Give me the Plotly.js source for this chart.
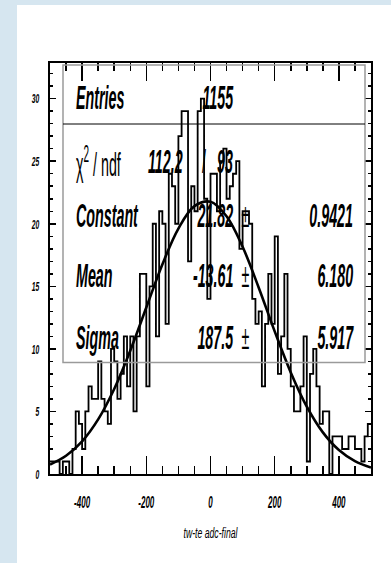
<!DOCTYPE html>
<html>
<head>
<meta charset="utf-8">
<script src="https://cdn.plot.ly/plotly-3.0.1.min.js"></script>
<style>
html, body { margin: 0; padding: 0; background: #ffffff; }
#chart { width: 391px; height: 563px; }
</style>
</head>
<body>
<div id="chart"></div>
<script>
// ---- data ----
const binLow = -500;
const binWidth = 10;
const counts = [
  1, 1, 1, 0, 1, 1, 0, 2, 5, 4,
  2, 5, 7, 6, 6, 9, 6, 5, 4, 10,
  9, 6, 8, 11, 7, 11, 5, 11, 16, 16,
  7, 15, 20, 11, 21, 20, 12, 24, 23, 20,
  27, 29, 29, 17, 23, 21, 29, 30, 22, 14,
  24, 24, 21, 25, 26, 22, 23, 24, 25, 18,
  21, 21, 20, 14, 12, 13, 7, 12, 16, 12,
  19, 8, 11, 16, 10, 7, 5, 5, 7, 11,
  1, 8, 10, 7, 4, 5, 5, 0, 3, 3,
  3, 2, 2, 3, 3, 2, 2, 1, 3, 4
];
const fitX = [-500, -450, -400, -350, -300, -250, -200, -150, -100, -50, 0,
              50, 100, 150, 200, 250, 300, 350, 400, 450, 500];
const fitY = [0.754, 1.454, 2.610, 4.364, 6.797, 9.856, 13.31, 16.75, 19.62, 21.41, 21.76,
              20.60, 18.16, 14.91, 11.40, 8.121, 5.387, 3.329, 1.915, 1.026, 0.512];
const xTickVals = [-400, -200, 0, 200, 400];
const xTickText = ['-400', '-200', '0', '200', '400'];
const yTickVals = [0, 5, 10, 15, 20, 25, 30];
const yTickText = ['0', '5', '10', '15', '20', '25', '30'];
const statNames = ['Entries', 'χ<sup>2</sup> / ndf', 'Constant', 'Mean', 'Sigma'];
const statValues = ['1155', '112.2', '21.82', '-13.61', '187.5'];
const statNdf = ['93'];
const statErrors = ['', '', '0.9421', '6.180', '5.917'];
const xTitle = 'tw-te adc-final';

// ---- geometry helpers (pixels -> paper) ----
const W = 391, H = 563, L = 50, R = 371, T = 63, B = 474;
const px = v => (v - L) / (R - L);
const py = v => (B - v) / (B - T);

const edges = counts.map((c, i) => binLow + i * binWidth);
edges.push(binLow + counts.length * binWidth);
const stepY = counts.concat([counts[counts.length - 1]]);

const FONT = 'Liberation Sans, Arial, sans-serif';
const boldIt = { family: FONT, size: 34, color: '#000', weight: 'bold', style: 'italic' };
const thin = { family: FONT, size: 34, color: '#000', weight: 'normal', style: 'normal' };

const rowY = [97, 161, 215, 275, 337];
const annotations = [];
statNames.forEach((name, i) => {
  annotations.push({ xref: 'paper', yref: 'paper', x: px(74), y: py(rowY[i]), xanchor: 'left', yanchor: 'middle',
    text: name, showarrow: false, font: i === 1 ? thin : boldIt });
});
statValues.forEach((v, i) => {
  annotations.push({ xref: 'paper', yref: 'paper', x: px(i === 1 ? 185 : 235), y: py(rowY[i]), xanchor: 'right', yanchor: 'middle',
    text: v, showarrow: false, font: boldIt });
});
annotations.push({ xref: 'paper', yref: 'paper', x: px(204), y: py(rowY[1]), xanchor: 'center', yanchor: 'middle',
  text: '/', showarrow: false, font: thin });
annotations.push({ xref: 'paper', yref: 'paper', x: px(235), y: py(rowY[1]), xanchor: 'right', yanchor: 'middle',
  text: statNdf[0], showarrow: false, font: boldIt });
statErrors.forEach((e, i) => {
  if (!e) return;
  annotations.push({ xref: 'paper', yref: 'paper', x: px(245), y: py(rowY[i]), xanchor: 'center', yanchor: 'middle',
    text: '±', showarrow: false, font: thin });
  annotations.push({ xref: 'paper', yref: 'paper', x: px(355), y: py(rowY[i]), xanchor: 'right', yanchor: 'middle',
    text: e, showarrow: false, font: boldIt });
});

const blue = '#d6e6f0';
const shapes = [
  { type: 'rect', xref: 'paper', yref: 'paper', x0: px(0), x1: px(17), y0: py(H), y1: py(0), fillcolor: blue, line: { width: 0 }, layer: 'below' },
  { type: 'rect', xref: 'paper', yref: 'paper', x0: px(0), x1: px(W), y0: py(5), y1: py(0), fillcolor: blue, line: { width: 0 }, layer: 'below' },
  { type: 'rect', xref: 'paper', yref: 'paper', x0: px(63), x1: px(365), y0: py(362.5), y1: py(65), fillcolor: 'rgba(0,0,0,0)', line: { color: '#9a9a9a', width: 1.5 }, layer: 'above' },
  { type: 'line', xref: 'paper', yref: 'paper', x0: px(63), x1: px(365), y0: py(124), y1: py(124), line: { color: '#000', width: 1 }, layer: 'above' }
];

const traces = [
  { type: 'scatter', mode: 'lines', x: edges, y: stepY, line: { shape: 'hv', color: '#000', width: 1.8 }, hoverinfo: 'skip' },
  { type: 'scatter', mode: 'lines', x: fitX, y: fitY, line: { shape: 'spline', color: '#000', width: 2.6 }, hoverinfo: 'skip' }
];

const tickFontX = { family: FONT, size: 16, color: '#000', weight: 'bold', style: 'italic' };
const tickFontY = { family: FONT, size: 13.5, color: '#000', weight: 'bold', style: 'italic' };

const layout = {
  width: W, height: H,
  margin: { l: L, r: W - R, t: T, b: H - B, pad: 0 },
  paper_bgcolor: '#ffffff', plot_bgcolor: '#ffffff',
  showlegend: false,
  font: { family: FONT, color: '#000' },
  xaxis: {
    range: [-500, 500], tickmode: 'array', tickvals: xTickVals, ticktext: xTickText,
    ticks: 'inside', ticklen: 18, tickwidth: 1.5, tickcolor: '#000',
    minor: { dtick: 50, tick0: 0, ticks: 'inside', ticklen: 8, tickwidth: 1.5, tickcolor: '#000', showgrid: false },
    showline: true, linecolor: '#000', linewidth: 2, mirror: 'ticks',
    showgrid: false, zeroline: false, tickfont: tickFontX, ticklabelstandoff: 13,
    title: { text: xTitle, font: { family: FONT, size: 14, color: '#000', style: 'italic' }, standoff: 18 },
    automargin: false, fixedrange: true
  },
  yaxis: {
    range: [0, 32.85], tickmode: 'array', tickvals: yTickVals, ticktext: yTickText,
    ticks: 'inside', ticklen: 6, tickwidth: 1.5, tickcolor: '#000',
    minor: { dtick: 1, tick0: 0, ticks: 'inside', ticklen: 3, tickwidth: 1.5, tickcolor: '#000', showgrid: false },
    showline: true, linecolor: '#000', linewidth: 2, mirror: 'ticks',
    showgrid: false, zeroline: false, tickfont: tickFontY, ticklabelstandoff: 6,
    automargin: false, fixedrange: true
  },
  annotations: annotations,
  shapes: shapes
};

function compress(t, ratio, anchor) {
  if (!t) return;
  const bb = t.getBBox();
  const len = t.getComputedTextLength();
  if (anchor === 'end') { t.setAttribute('text-anchor', 'end'); t.setAttribute('x', bb.x + bb.width); }
  else if (anchor === 'start') { t.setAttribute('text-anchor', 'start'); t.setAttribute('x', bb.x); }
  else if (anchor === 'middle') { t.setAttribute('text-anchor', 'middle'); t.setAttribute('x', bb.x + bb.width / 2); }
  t.setAttribute('textLength', (len * ratio).toFixed(2));
  t.setAttribute('lengthAdjust', 'spacingAndGlyphs');
}

const gd = document.getElementById('chart');
Plotly.newPlot(gd, traces, layout, { staticPlot: true, responsive: false, displayModeBar: false }).then(() => {
  gd.querySelectorAll('g.annotation').forEach(g => {
    const idx = +g.getAttribute('data-index');
    const ann = layout.annotations[idx];
    const t = g.querySelector('text');
    const anchor = ann.xanchor === 'right' ? 'end' : (ann.xanchor === 'left' ? 'start' : 'middle');
    compress(t, 0.42, anchor);
  });
  gd.querySelectorAll('.xtick text').forEach(t => compress(t, 0.5, null));
  gd.querySelectorAll('.ytick text').forEach(t => compress(t, 0.5, null));
  gd.querySelectorAll('text.xtitle').forEach(t => compress(t, 0.62, null));
});
</script>
</body>
</html>
